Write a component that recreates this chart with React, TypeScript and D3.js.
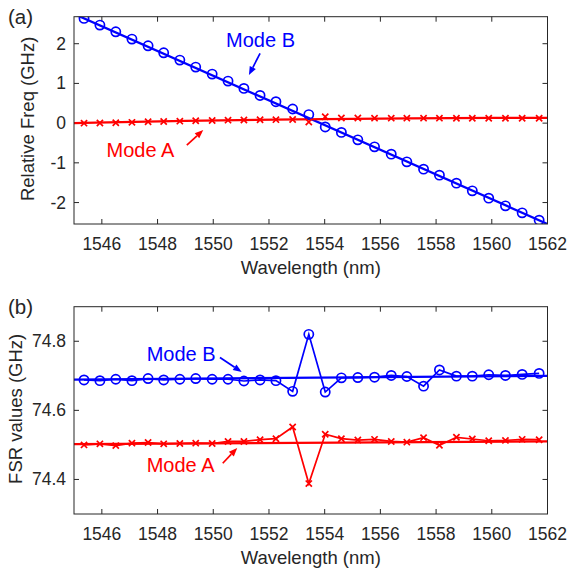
import React from "react";
import * as d3 from "d3";

// ---------- data ----------
const wavelength = [
  1545.36, 1545.93, 1546.5, 1547.08, 1547.66, 1548.22, 1548.8, 1549.37, 1549.96, 1550.53,
  1551.1, 1551.68, 1552.25, 1552.85, 1553.43, 1554.02, 1554.6, 1555.19, 1555.79, 1556.39,
  1556.95, 1557.55, 1558.12, 1558.73, 1559.3, 1559.89, 1560.49, 1561.09, 1561.7,
];
const relFreqB = [
  2.637, 2.469, 2.3, 2.116, 1.947, 1.771, 1.587, 1.411, 1.234, 1.058, 0.874, 0.697, 0.54,
  0.356, 0.215, -0.096, -0.234, -0.421, -0.597, -0.781, -0.975, -1.159, -1.31, -1.511,
  -1.705, -1.889, -2.083, -2.259, -2.443,
];
const relFreqA = [
  0, 0.005, 0.01, 0.02, 0.034, 0.042, 0.05, 0.06, 0.067, 0.075, 0.08, 0.085, 0.088, 0.09,
  0.03, 0.16, 0.13, 0.128, 0.126, 0.126, 0.126, 0.126, 0.125, 0.124, 0.122, 0.122, 0.122,
  0.122, 0.122,
];
const fitBX = [1545, 1562];
const fitBY = [2.75, -2.54];
const fitAX = [1545, 1549, 1553, 1557, 1562];
const fitAY = [0.0, 0.055, 0.095, 0.12, 0.134];

const fsrB = [
  74.688, 74.686, 74.69, 74.686, 74.692, 74.688, 74.69, 74.692, 74.69, 74.69, 74.685,
  74.688, 74.686, 74.655, 74.82, 74.653, 74.694, 74.695, 74.696, 74.701, 74.698, 74.67,
  74.717, 74.699, 74.699, 74.703, 74.701, 74.704, 74.707,
];
const fsrA = [
  74.5, 74.503, 74.498, 74.505, 74.507, 74.503, 74.504, 74.505, 74.504, 74.51, 74.51,
  74.515, 74.518, 74.552, 74.388, 74.531, 74.518, 74.514, 74.516, 74.51, 74.508, 74.521,
  74.499, 74.522, 74.517, 74.512, 74.513, 74.516, 74.515,
];
const fitFsrX = [1545, 1562];
const fitFsrB = [74.689, 74.7];
const fitFsrA = [74.502, 74.51];

const xTicks = [1546, 1548, 1550, 1552, 1554, 1556, 1558, 1560, 1562];
const yTicksA = [-2, -1, 0, 1, 2];
const yTicksB = [74.4, 74.6, 74.8];

// annotations in data units: [textX, textY, arrowFromX, arrowFromY, arrowToX, arrowToY]
const annotA = [
  { label: "Mode B", color: "#0000ff", pos: [1550.46, 1.907, 1551.68, 1.756, 1551.28, 1.209] },
  { label: "Mode A", color: "#ff0000", pos: [1546.17, -0.849, 1549.05, -0.554, 1549.64, -0.176] },
];
const annotB = [
  { label: "Mode B", color: "#0000ff", pos: [1547.61, 74.743, 1550.24, 74.753, 1551.02, 74.711] },
  { label: "Mode A", color: "#ff0000", pos: [1547.61, 74.422, 1550.34, 74.447, 1550.86, 74.491] },
];

// ---------- layout ----------
const FONT = "'Liberation Sans', Arial, Helvetica, sans-serif";
const AX = "#262626";
const BLUE = "#0000ff";
const RED = "#ff0000";
const X_LEFT = 74;
const X_RIGHT = 547.5;

type Annot = { label: string; color: string; pos: number[] };

function Arrow({ x1, y1, x2, y2, color }: { x1: number; y1: number; x2: number; y2: number; color: string }) {
  const ang = Math.atan2(y2 - y1, x2 - x1);
  const L = 8.5,
    Wd = 3.4;
  const bx = x2 - L * Math.cos(ang);
  const by = y2 - L * Math.sin(ang);
  const px = -Math.sin(ang) * Wd;
  const py = Math.cos(ang) * Wd;
  return (
    <g>
      <line x1={x1} y1={y1} x2={bx} y2={by} stroke={color} strokeWidth={1.7} />
      <polygon points={`${x2},${y2} ${bx + px},${by + py} ${bx - px},${by - py}`} fill={color} />
    </g>
  );
}

function Panel(props: {
  id: string;
  top: number;
  bottom: number;
  yDomain: [number, number];
  yTicks: number[];
  tickFmt: (v: number) => string;
  yLabel: string;
  yLabelX: number;
  tag: string;
  annots: Annot[];
  series: { y: number[]; color: string; marker: "o" | "x"; connect: boolean }[];
  fits: { x: number[]; y: number[]; color: string }[];
}) {
  const { top, bottom } = props;
  const x = d3.scaleLinear().domain([1545, 1562]).range([X_LEFT, X_RIGHT]);
  const y = d3.scaleLinear().domain(props.yDomain).range([bottom, top]);
  const lineGen = d3
    .line<[number, number]>()
    .x((d) => x(d[0]))
    .y((d) => y(d[1]));
  const curveGen = d3
    .line<[number, number]>()
    .x((d) => x(d[0]))
    .y((d) => y(d[1]))
    .curve(d3.curveMonotoneX);
  const tl = 5;
  const ms = 3.1;
  const clipId = `clip-${props.id}`;
  return (
    <g>
      <defs>
        <clipPath id={clipId}>
          <rect x={X_LEFT} y={top} width={X_RIGHT - X_LEFT} height={bottom - top} />
        </clipPath>
      </defs>
      {xTicks.map((t) => (
        <g key={"xt" + t}>
          <line x1={x(t)} x2={x(t)} y1={bottom} y2={bottom - tl} stroke={AX} strokeWidth={1} />
          <line x1={x(t)} x2={x(t)} y1={top} y2={top + tl} stroke={AX} strokeWidth={1} />
          <text x={x(t)} y={bottom + 25.5} textAnchor="middle" fontSize={17.5} fontFamily={FONT} fill={AX}>
            {t}
          </text>
        </g>
      ))}
      {props.yTicks.map((t) => (
        <g key={"yt" + t}>
          <line x1={X_LEFT} x2={X_LEFT + tl} y1={y(t)} y2={y(t)} stroke={AX} strokeWidth={1} />
          <line x1={X_RIGHT} x2={X_RIGHT - tl} y1={y(t)} y2={y(t)} stroke={AX} strokeWidth={1} />
          <text x={X_LEFT - 8} y={y(t) + 6} textAnchor="end" fontSize={17.5} fontFamily={FONT} fill={AX}>
            {props.tickFmt(t)}
          </text>
        </g>
      ))}
      <g clipPath={`url(#${clipId})`}>
        {props.fits.map((f, i) => {
          const pts = f.x.map((v, j) => [v, f.y[j]] as [number, number]);
          return (
            <path
              key={"fit" + i}
              d={(f.x.length > 2 ? curveGen(pts) : lineGen(pts)) || ""}
              fill="none"
              stroke={f.color}
              strokeWidth={2.3}
            />
          );
        })}
        {props.series.map((s, i) => {
          const pts = wavelength.map((w, j) => [w, s.y[j]] as [number, number]);
          return (
            <g key={"s" + i}>
              {s.connect && <path d={lineGen(pts) || ""} fill="none" stroke={s.color} strokeWidth={1.7} />}
              {pts.map((p, j) =>
                s.marker === "o" ? (
                  <circle key={j} cx={x(p[0])} cy={y(p[1])} r={4.6} fill="none" stroke={s.color} strokeWidth={1.7} />
                ) : (
                  <path
                    key={j}
                    d={`M${x(p[0]) - ms},${y(p[1]) - ms}L${x(p[0]) + ms},${y(p[1]) + ms}M${x(p[0]) - ms},${
                      y(p[1]) + ms
                    }L${x(p[0]) + ms},${y(p[1]) - ms}`}
                    stroke={s.color}
                    strokeWidth={1.7}
                    fill="none"
                  />
                )
              )}
            </g>
          );
        })}
      </g>
      <rect x={X_LEFT} y={top} width={X_RIGHT - X_LEFT} height={bottom - top} fill="none" stroke={AX} strokeWidth={1} />
      {props.annots.map((a, i) => (
        <g key={"an" + i}>
          <text x={x(a.pos[0])} y={y(a.pos[1])} fontSize={20} fontFamily={FONT} fill={a.color}>
            {a.label}
          </text>
          <Arrow x1={x(a.pos[2])} y1={y(a.pos[3])} x2={x(a.pos[4])} y2={y(a.pos[5])} color={a.color} />
        </g>
      ))}
      <text
        x={(X_LEFT + X_RIGHT) / 2}
        y={bottom + 50}
        textAnchor="middle"
        fontSize={18.5}
        fontFamily={FONT}
        fill={AX}
      >
        Wavelength (nm)
      </text>
      <text
        transform={`translate(${props.yLabelX},${(top + bottom) / 2 - 1.5}) rotate(-90)`}
        textAnchor="middle"
        fontSize={18.5}
        fontFamily={FONT}
        fill={AX}
      >
        {props.yLabel}
      </text>
      <text x={8} y={top + 7.5} fontSize={20.5} fontFamily={FONT} fill={AX}>
        {props.tag}
      </text>
    </g>
  );
}

export default function App() {
  return (
    <svg
      width={569}
      height={570}
      viewBox="0 0 569 570"
      style={{ position: "absolute", left: 0, top: 0, background: "#fff" }}
    >
      <rect width={569} height={570} fill="#fff" />
      <Panel
        id="a"
        top={16.7}
        bottom={224}
        yDomain={[-2.54, 2.68]}
        yTicks={yTicksA}
        tickFmt={(v) => String(v)}
        yLabel="Relative Freq (GHz)"
        yLabelX={34}
        tag="(a)"
        annots={annotA}
        fits={[
          { x: fitBX, y: fitBY, color: BLUE },
          { x: fitAX, y: fitAY, color: RED },
        ]}
        series={[
          { y: relFreqB, color: BLUE, marker: "o", connect: false },
          { y: relFreqA, color: RED, marker: "x", connect: false },
        ]}
      />
      <Panel
        id="b"
        top={306.7}
        bottom={514}
        yDomain={[74.3, 74.9]}
        yTicks={yTicksB}
        tickFmt={(v) => v.toFixed(1)}
        yLabel="FSR values (GHz)"
        yLabelX={22}
        tag="(b)"
        annots={annotB}
        fits={[
          { x: fitFsrX, y: fitFsrB, color: BLUE },
          { x: fitFsrX, y: fitFsrA, color: RED },
        ]}
        series={[
          { y: fsrB, color: BLUE, marker: "o", connect: true },
          { y: fsrA, color: RED, marker: "x", connect: true },
        ]}
      />
    </svg>
  );
}
